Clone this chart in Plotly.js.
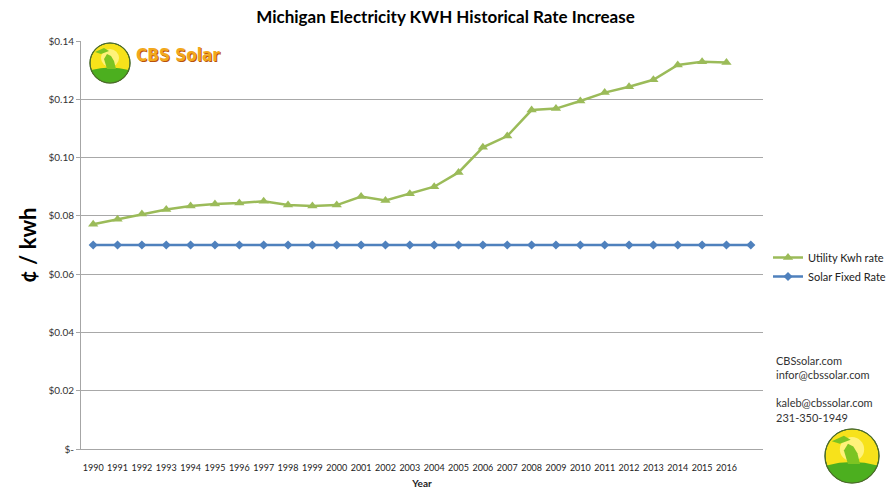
<!DOCTYPE html>
<html>
<head>
<meta charset="utf-8">
<script src="https://cdn.plot.ly/plotly-3.0.1.min.js"></script>
<style>html,body{margin:0;padding:0;background:#fff}#chart{width:891px;height:492px}</style>
</head>
<body>
<div id="chart"></div>
<script>
// Categories (last slot has no label, the fixed-rate series extends into it)
const years = ['1990','1991','1992','1993','1994','1995','1996','1997','1998','1999','2000','2001','2002','2003','2004','2005','2006','2007','2008','2009','2010','2011','2012','2013','2014','2015','2016',' '];
const utilityYears = ['1990','1991','1992','1993','1994','1995','1996','1997','1998','1999','2000','2001','2002','2003','2004','2005','2006','2007','2008','2009','2010','2011','2012','2013','2014','2015','2016'];
const utilityRate = [0.0771,0.0788,0.0806,0.0822,0.0834,0.0841,0.0844,0.0850,0.0837,0.0834,0.0837,0.0866,0.0853,0.0876,0.0900,0.0949,0.1035,0.1074,0.1163,0.1168,0.1194,0.1223,0.1243,0.1267,0.1318,0.1329,0.1326];
const solarRate = [0.07,0.07,0.07,0.07,0.07,0.07,0.07,0.07,0.07,0.07,0.07,0.07,0.07,0.07,0.07,0.07,0.07,0.07,0.07,0.07,0.07,0.07,0.07,0.07,0.07,0.07,0.07,0.07];
const yTickVals = [0,0.02,0.04,0.06,0.08,0.10,0.12,0.14];
const yTickText = ['$-','$0.02','$0.04','$0.06','$0.08','$0.10','$0.12','$0.14'];
const contactLines = ['CBSsolar.com','infor@cbssolar.com','','kaleb@cbssolar.com','231-350-1949'];

const FONT = 'Lato, "Open Sans", sans-serif';

const traces = [
  {
    x: utilityYears, y: utilityRate, name: 'Utility Kwh rate',
    type: 'scatter', mode: 'lines+markers',
    line: {color: '#9BBB59', width: 2.5},
    marker: {symbol: 'triangle-up', size: 9, color: '#9BBB59'}
  },
  {
    x: years, y: solarRate, name: 'Solar Fixed Rate',
    type: 'scatter', mode: 'lines+markers',
    line: {color: '#4F81BD', width: 2.5},
    marker: {symbol: 'diamond', size: 7, color: '#4F81BD'}
  }
];

function logoShapes(cx, cy, r) {
  const base = {xref: 'paper', yref: 'paper', xsizemode: 'pixel', ysizemode: 'pixel', xanchor: cx, yanchor: cy, layer: 'above'};
  const s = [];
  s.push(Object.assign({}, base, {type: 'circle', x0: -r, x1: r, y0: -r, y1: r, fillcolor: '#F7E21B', line: {color: '#4a6b2a', width: 1}}));
  s.push(Object.assign({}, base, {type: 'circle', x0: -r*0.45, x1: r*0.45, y0: -r*0.2, y1: r*0.7, fillcolor: '#FFF27A', line: {width: 0}}));
  s.push(Object.assign({}, base, {type: 'path', path: `M ${-r*0.94} ${-r*0.35} Q 0 ${-r*0.1} ${r*0.94} ${-r*0.35} Q ${r*0.7} ${-r*0.95} 0 ${-r} Q ${-r*0.7} ${-r*0.95} ${-r*0.94} ${-r*0.35} Z`, fillcolor: '#4CAF1F', line: {width: 0}}));
  s.push(Object.assign({}, base, {type: 'path', path: `M ${-r*0.15} ${-r*0.3} L ${-r*0.3} ${r*0.2} L ${-r*0.15} ${r*0.45} L ${r*0.05} ${r*0.35} L ${r*0.2} ${r*0.1} L ${r*0.3} ${-r*0.3} Z`, fillcolor: '#7CC422', line: {width: 0}}));
  s.push(Object.assign({}, base, {type: 'path', path: `M ${-r*0.75} ${r*0.55} L ${-r*0.3} ${r*0.75} L ${-r*0.05} ${r*0.6} L ${-r*0.45} ${r*0.45} Z`, fillcolor: '#7CC422', line: {width: 0}}));
  s.push(Object.assign({}, base, {type: 'circle', x0: -r, x1: r, y0: -r, y1: r, fillcolor: 'rgba(0,0,0,0)', line: {color: '#4a6b2a', width: 1.2}}));
  return s;
}

// plot area: left 81, right 763, top 41, bottom 449
const PW = 682, PH = 408;
const px = v => (v - 81) / PW;
const py = v => (449 - v) / PH;

const annotations = [];
contactLines.forEach((t, i) => {
  if (!t) return;
  annotations.push({xref: 'paper', yref: 'paper', x: px(774), y: py(360 + i * 14.3), xanchor: 'left', yanchor: 'middle', text: t, showarrow: false, font: {family: FONT, size: 11, color: '#333'}});
});
annotations.push({xref: 'paper', yref: 'paper', x: px(134), y: py(55), xanchor: 'left', yanchor: 'middle', text: '<b>CBS Solar</b>', showarrow: false,
  font: {family: '"DejaVu Sans Condensed", "DejaVu Sans", sans-serif', size: 17, color: '#F2A81C', shadow: '1px 1px 0 #B8520E'}});
// y-axis title drawn as rotated annotation for size control
annotations.push({xref: 'paper', yref: 'paper', x: px(27), y: py(245), xanchor: 'center', yanchor: 'middle', textangle: -90, text: '<b>¢ / kwh</b>', showarrow: false,
  font: {family: FONT, size: 22, color: '#000'}});

const layout = {
  width: 891, height: 492,
  paper_bgcolor: '#fff', plot_bgcolor: '#fff',
  margin: {l: 81, r: 128, t: 41, b: 43, autoexpand: false},
  title: {text: '<b>Michigan Electricity KWH Historical Rate Increase</b>', x: 0.5, xanchor: 'center', y: 0.965, yanchor: 'middle', font: {family: FONT, size: 17, color: '#000'}},
  font: {family: FONT, size: 10, color: '#333'},
  xaxis: {
    type: 'category', categoryorder: 'array', categoryarray: years,
    range: [-0.5, years.length - 0.5],
    showgrid: false, showline: true, linecolor: '#A6A6A6', linewidth: 1,
    ticks: '', ticklabelstandoff: 10, tickangle: 0, automargin: false,
    tickfont: {family: FONT, size: 9, color: '#222'},
    title: {text: '<b>Year</b>', font: {family: FONT, size: 10, color: '#222'}, standoff: 8},
    zeroline: false
  },
  yaxis: {
    range: [0, 0.14], tickvals: yTickVals, ticktext: yTickText, automargin: false,
    showgrid: true, gridcolor: '#A8A8A8', gridwidth: 1,
    showline: true, linecolor: '#A6A6A6', linewidth: 1,
    ticks: 'outside', ticklen: 4, tickcolor: '#A6A6A6',
    tickfont: {family: FONT, size: 10, color: '#333'},
    zeroline: false
  },
  legend: {
    x: px(768), y: py(243), xanchor: 'left', yanchor: 'top',
    font: {family: FONT, size: 11, color: '#222'},
    bgcolor: 'rgba(0,0,0,0)', tracegroupgap: 6, itemwidth: 30
  },
  showlegend: true,
  annotations: annotations,
  shapes: logoShapes(px(110), py(63), 20).concat(logoShapes(px(852), py(456), 27))
};

Plotly.newPlot('chart', traces, layout, {displayModeBar: false, staticPlot: true});
</script>
</body>
</html>
